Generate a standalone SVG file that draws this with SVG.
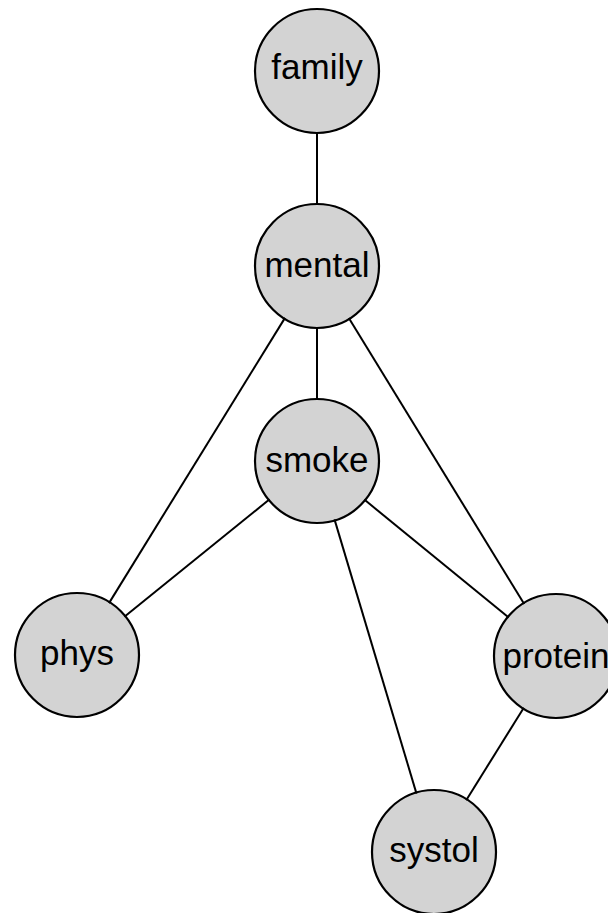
<svg xmlns="http://www.w3.org/2000/svg" width="608" height="913" viewBox="0 0 608 913">
  <style>
    .node circle { fill: #d3d3d3; stroke: #000; stroke-width: 2.2; }
    .node text { font-family: "Liberation Sans", Arial, sans-serif; font-size: 35px; fill: #000; text-anchor: middle; }
    .edges line { stroke: #000; stroke-width: 2; stroke-linecap: butt; }
  </style>
  <rect width="608" height="913" fill="#fff"/>

  <g id="node-family" class="node">
    <circle cx="317" cy="71" r="62"/>
    <text x="317" y="79">family</text>
  </g>
  <g id="node-mental" class="node">
    <circle cx="317" cy="266" r="62"/>
    <text x="317" y="277">mental</text>
  </g>
  <g id="node-smoke" class="node">
    <circle cx="317" cy="461" r="62"/>
    <text x="317" y="472">smoke</text>
  </g>
  <g id="node-phys" class="node">
    <circle cx="77" cy="655" r="62"/>
    <text x="77" y="665">phys</text>
  </g>
  <g id="node-protein" class="node">
    <circle cx="556" cy="656" r="62"/>
    <text x="556" y="668">protein</text>
  </g>
  <g id="node-systol" class="node">
    <circle cx="434" cy="852" r="62"/>
    <text x="434" y="862">systol</text>
  </g>

  <g id="edges" class="edges">
    <line x1="317" y1="132" x2="317" y2="205"/>
    <line x1="317" y1="327" x2="317" y2="400"/>
    <line x1="285" y1="317.9" x2="109" y2="603.1"/>
    <line x1="348.8" y1="318" x2="524.2" y2="604"/>
    <line x1="269.6" y1="499.3" x2="124.4" y2="616.7"/>
    <line x1="364.3" y1="499.6" x2="508.7" y2="617.4"/>
    <line x1="334.5" y1="519.4" x2="416.5" y2="793.6"/>
    <line x1="523.8" y1="707.8" x2="466.2" y2="800.2"/>
  </g>
</svg>
